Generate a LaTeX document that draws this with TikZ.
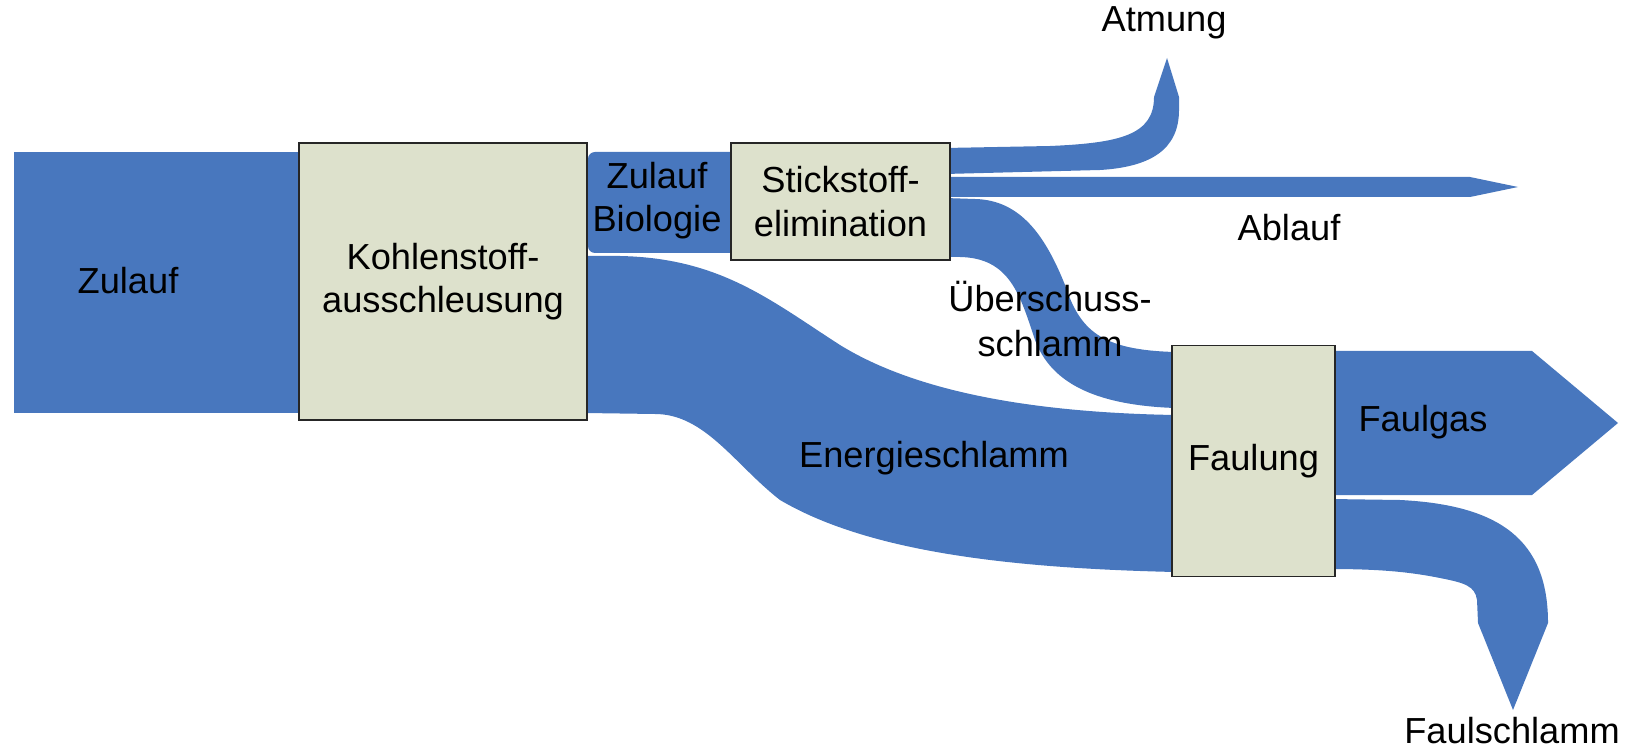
\documentclass[tikz,border=0pt]{standalone}
\usepackage{fontspec}
\setmainfont{Liberation Sans}
\usetikzlibrary{backgrounds}
\definecolor{flowblue}{RGB}{72,119,190}
\definecolor{boxgreen}{RGB}{221,225,204}

\begin{document}
\begin{tikzpicture}[
x=0.01cm, y=-0.01cm,
font=\fontsize{10.3}{12.3}\selectfont,
box/.style = {draw=black!85, fill=boxgreen, line width=0.5pt, inner sep=0pt, align=center},
flow/.style = {fill=flowblue},
lbl/.style = {align=center, inner sep=0pt}
]
\useasboundingbox (0,0) rectangle (1634,749);

% Prozessstufen
\node (kohl)  [box, minimum width=2.88cm, minimum height=2.77cm] at (443,281.5)  {Kohlenstoff-\\ausschleusung};
\node (stick) [box, minimum width=2.19cm, minimum height=1.17cm] at (840.5,201.5) {Stickstoff-\\elimination};
\node (faul)  [box, minimum width=1.63cm, minimum height=2.31cm] at (1253.5,461) {Faulung};

% Beschriftung der Stroeme
\node (zul)    [lbl] at (128,281)  {Zulauf};
\node (zulbio) [lbl] at (657,201)  {Zulauf\\Biologie};
\node (energ)  [lbl] at (934,458)  {Energieschlamm};
\node (ueber)  [lbl, font=\fontsize{10.3}{12.8}\selectfont] at (1050,319) {Überschuss-\\schlamm};
\node (atm)    [lbl] at (1164,23)  {Atmung};
\node (abl)    [lbl] at (1289,228) {Ablauf};
\node (fgas)   [lbl] at (1423,422) {Faulgas};
\node (fschl)  [lbl] at (1512,731) {Faulschlamm};

\begin{pgfonlayer}{background}
% Zulauf
\fill[flow] (14,152) rectangle (kohl.west |- 0,413);
% Zulauf Biologie
\fill[flow, rounded corners=2pt] (kohl.east |- 0,253) -- (kohl.east |- 0,152) -- (740,152) -- (740,253) -- cycle;
% Energieschlamm
\fill[flow] (585,256) -- (620,256) .. controls (720,258) and (770,300) .. (840,345)
  .. controls (900,382) and (1000,412) .. (1175,415) -- (1175,572)
  .. controls (1000,568) and (865,550) .. (780,500)
  .. controls (735,465) and (705,414) .. (655,414) -- (585,413) -- cycle;
% Ueberschussschlamm
\fill[flow] (945,198) -- (975,199) .. controls (1020,200) and (1045,235) .. (1065,285)
  .. controls (1080,330) and (1100,350) .. (1175,352) -- (1175,408)
  .. controls (1090,405) and (1050,380) .. (1035,340)
  .. controls (1020,295) and (1010,258) .. (960,257) -- (945,257) -- cycle;
% Atmung
\fill[flow] (945,148) -- (1050,146) .. controls (1120,143) and (1154,135) .. (1154,97)
  -- (1167,58) -- (1179,97) -- (1179,110)
  .. controls (1179,150) and (1150,167) .. (1100,170) -- (945,174) -- cycle;
% Ablauf
\fill[flow] (945,177) -- (1470,177) -- (1518,187) -- (1470,197) -- (945,197) -- cycle;
% Faulgas
\fill[flow] (1330,351) -- (1532,351) -- (1618,423) -- (1532,495) -- (1330,495) -- cycle;
% Faulschlamm
\fill[flow] (1330,499) -- (1400,500) .. controls (1500,505) and (1548,540) .. (1548,623)
  -- (1513,710) -- (1478,623) -- (1477,600)
  .. controls (1475,586) and (1465,583) .. (1440,578)
  .. controls (1410,572) and (1380,569) .. (1330,569) -- cycle;
\end{pgfonlayer}

\end{tikzpicture}
\end{document}
